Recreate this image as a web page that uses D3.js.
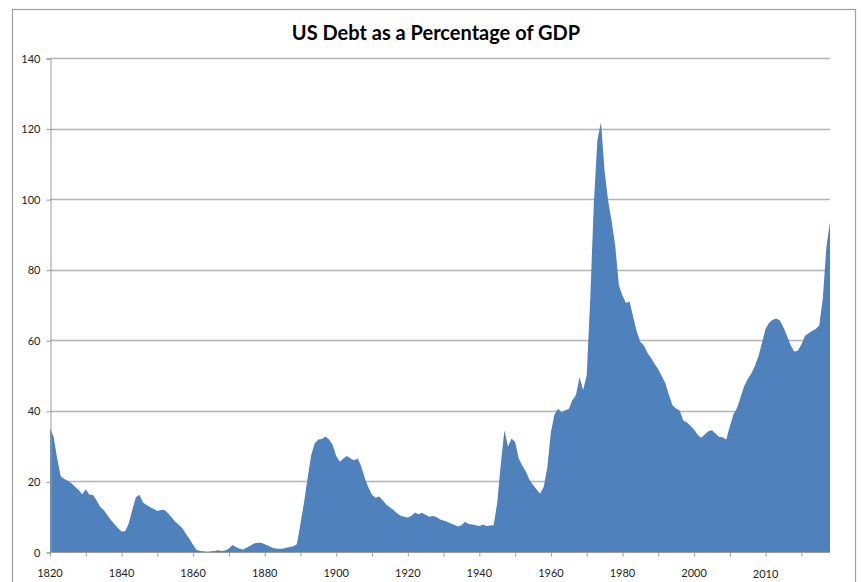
<!DOCTYPE html>
<html>
<head>
<meta charset="utf-8">
<script src="https://cdn.jsdelivr.net/npm/d3@7"></script>
<style>
  html, body { margin: 0; padding: 0; background: #fff; }
</style>
</head>
<body>
<div id="chart"></div>
<script>
  /* Debt as % of GDP, one value per category position */
  var debt = [
    35.0, 32.7, 26.5, 21.5, 20.7, 20.2, 19.5, 18.5, 17.6, 16.4,
    17.8, 16.2, 16.2, 14.7, 12.8, 11.9, 10.5, 9.1, 7.9, 6.7,
    5.8, 5.9, 8.1, 11.9, 15.5, 16.2, 14.0, 13.3, 12.7, 12.2,
    11.6, 11.9, 11.9, 11.0, 9.8, 8.6, 7.7, 6.7, 5.1, 3.7,
    2.0, 0.6, 0.3, 0.2, 0.1, 0.2, 0.3, 0.5, 0.3, 0.4,
    1.0, 2.0, 1.4, 0.9, 0.7, 1.3, 1.8, 2.4, 2.6, 2.6,
    2.2, 1.8, 1.3, 1.0, 0.9, 0.9, 1.2, 1.4, 1.6, 2.2,
    8.0, 14.0, 21.0, 27.5, 30.8, 31.9, 32.0, 32.7, 31.9, 30.3,
    27.2, 25.6, 26.5, 27.2, 26.5, 26.0, 26.5, 24.2, 20.9, 18.3,
    16.2, 15.4, 15.7, 14.7, 13.4, 12.7, 11.9, 11.0, 10.3, 10.0,
    9.8, 10.3, 11.2, 10.7, 11.1, 10.5, 10.0, 10.2, 9.9, 9.2,
    8.9, 8.6, 8.1, 7.7, 7.2, 7.6, 8.6, 7.9, 7.8, 7.6,
    7.4, 7.8, 7.4, 7.5, 7.6, 14.0, 25.0, 34.5, 29.8, 32.2,
    31.2, 26.5, 24.5, 22.8, 20.5, 19.0, 17.7, 16.6, 18.5, 24.0,
    34.0, 39.0, 40.6, 39.5, 40.2, 40.5, 43.0, 44.5, 49.5, 45.9,
    50.0, 72.0, 99.0, 116.8, 121.8, 108.0, 99.5, 93.5, 86.5, 75.5,
    72.6, 70.6, 71.0, 66.5, 62.5, 59.5, 58.5, 56.4, 55.0, 53.3,
    51.8, 49.8, 47.8, 44.5, 41.5, 40.7, 40.0, 37.3, 36.7, 35.8,
    34.7, 33.2, 32.4, 33.3, 34.2, 34.5, 33.6, 32.6, 32.5, 31.9,
    35.6, 39.0, 40.8, 43.8, 47.0, 49.0, 50.6, 52.7, 55.5, 59.3,
    63.3, 65.0, 65.8, 66.2, 65.6, 63.6, 61.2, 58.6, 56.8, 57.0,
    58.8, 61.2, 62.0, 62.6, 63.2, 64.2, 72.0, 86.5, 93.5
  ];

  /* Category axis: a tick mark every 10 positions, labels every 20 */
  var xMinorTicks = d3.range(0, 211, 10);
  var xLabelPos = [0, 20, 40, 60, 80, 100, 120, 140, 160, 180, 200];
  var xLabels = ["1820", "1840", "1860", "1880", "1900", "1920", "1940", "1960", "1980", "2000", "2010"];

  var yTicks = [0, 20, 40, 60, 80, 100, 120, 140];

  var W = 861, H = 582;
  var ml = 50, mr = 31, mt = 58, mb = 30;
  var FONT = "Lato, 'Open Sans', 'DejaVu Sans', sans-serif";

  var svg = d3.select("#chart").append("svg")
    .attr("width", W).attr("height", H)
    .style("display", "block")
    .style("font-family", FONT);

  /* chart area border */
  svg.append("rect")
    .attr("x", 12.5).attr("y", 9.5)
    .attr("width", 843).attr("height", 600)
    .attr("fill", "#fff").attr("stroke", "#a0a0a0").attr("stroke-width", 1.2);

  var x = d3.scaleLinear().domain([0, debt.length - 1]).range([ml, W - mr]);
  var y = d3.scaleLinear().domain([0, 140]).range([H - mb, mt]);

  /* title */
  svg.append("text")
    .attr("x", 436).attr("y", 40)
    .attr("text-anchor", "middle")
    .attr("font-size", 20).attr("font-weight", "bold")
    .attr("fill", "#000")
    .text("US Debt as a Percentage of GDP");

  /* gridlines */
  svg.append("g").selectAll("line")
    .data(yTicks.filter(function (d) { return d > 0; }))
    .join("line")
    .attr("x1", ml).attr("x2", W - mr)
    .attr("y1", function (d) { return Math.round(y(d)) + 0.5; })
    .attr("y2", function (d) { return Math.round(y(d)) + 0.5; })
    .attr("stroke", "#b3b3b3").attr("stroke-width", 1.3);

  /* area */
  var area = d3.area()
    .x(function (d, i) { return x(i); })
    .y0(y(0))
    .y1(function (d) { return y(d); });

  svg.append("path")
    .datum(debt)
    .attr("d", area)
    .attr("fill", "#4f81bd");

  /* y axis */
  var yAxis = svg.append("g")
    .attr("transform", "translate(" + (ml + 0.5) + ",0.5)")
    .call(d3.axisLeft(y).tickValues(yTicks).tickSize(4).tickPadding(6));
  yAxis.select(".domain").attr("stroke", "#9a9a9a");
  yAxis.selectAll(".tick line").attr("stroke", "#9a9a9a");
  yAxis.selectAll(".tick text")
    .attr("font-family", FONT).attr("font-size", 11).attr("fill", "#222");

  /* x axis: tick marks */
  var xAxis = svg.append("g")
    .attr("transform", "translate(0," + (Math.round(y(0)) + 0.5) + ")")
    .call(d3.axisBottom(x).tickValues(xMinorTicks).tickSize(4).tickFormat(""));
  xAxis.select(".domain").attr("stroke", "#9a9a9a")
    .attr("d", "M" + ml + ",0H" + (W - mr));
  xAxis.selectAll(".tick line").attr("stroke", "#9a9a9a");

  /* x axis: labels */
  svg.append("g").selectAll("text")
    .data(xLabelPos)
    .join("text")
    .attr("x", function (d) { return x(d); })
    .attr("y", function (d, i) { return i === xLabels.length - 1 ? 578 : 577; })
    .attr("text-anchor", "middle")
    .attr("font-size", 11).attr("fill", "#222")
    .text(function (d, i) { return xLabels[i]; });
</script>
</body>
</html>
